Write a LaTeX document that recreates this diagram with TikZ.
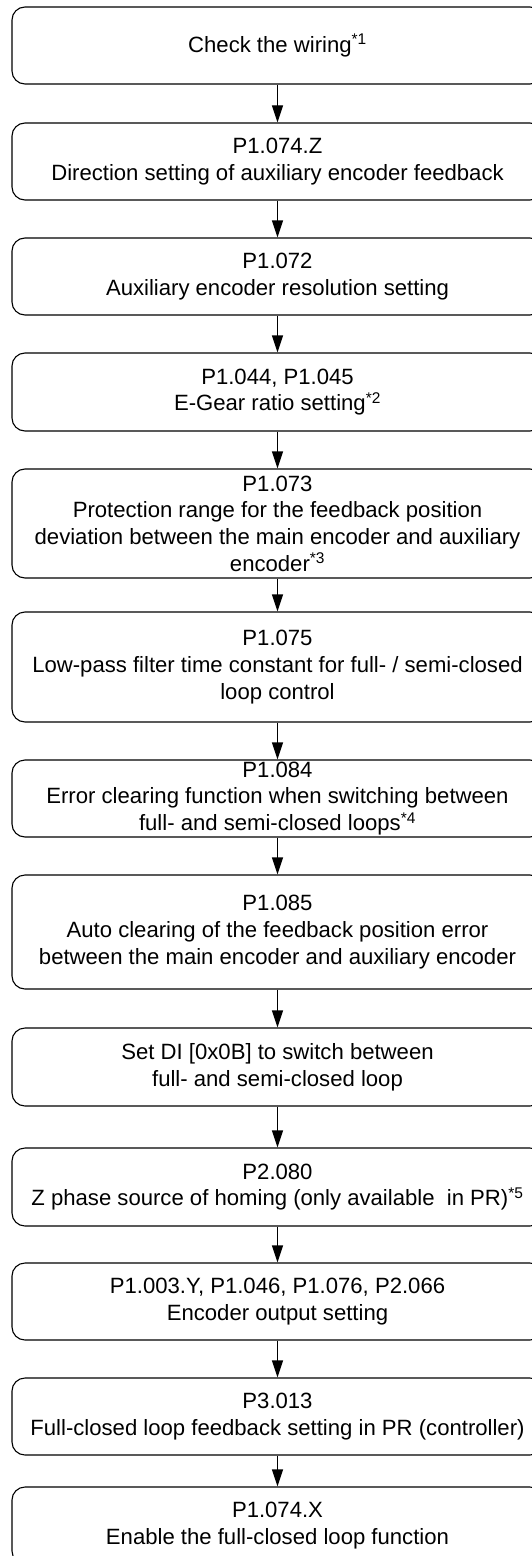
\documentclass[tikz,border=0pt]{standalone}
\usepackage{fontspec}
\setmainfont{Liberation Sans}
\usetikzlibrary{arrows.meta}

\begin{document}
\begin{tikzpicture}[x=1bp, y=-1bp, >={Triangle[width=11bp,length=17bp]}, line width=1.1bp,
    flowbox/.style={draw, rounded corners=13bp, minimum width=531bp, inner sep=0pt, align=center,
      font=\fontsize{22.2}{26.8}\selectfont}]
    % Frame
    \useasboundingbox (0,0) rectangle (532,1556);
    \clip (0,0) rectangle (532,1556);

    % Steps
    \node[flowbox, minimum height=77bp] (wiring) at (277.5,45.5) {Check the wiring\textsuperscript{*1}};
    \node[flowbox, minimum height=77bp] (dirset) at (277.5,161.5) {P1.074.Z\\Direction setting of auxiliary encoder feedback};
    \node[flowbox, minimum height=77bp] (resol) at (277.5,276.5) {P1.072\\Auxiliary encoder resolution setting};
    \node[flowbox, minimum height=78bp] (egear) at (277.5,392) {P1.044, P1.045\\E-Gear ratio setting\textsuperscript{*2}};
    \node[flowbox, minimum height=109bp] (protect) at (277.5,523.5) {P1.073\\Protection range for the feedback position\\deviation between the main encoder and auxiliary\\encoder\textsuperscript{*3}};
    \node[flowbox, minimum height=110bp] (lowpass) at (277.5,667) {P1.075\\Low-pass filter time constant for full- / semi-closed\\loop control};
    \node[flowbox, minimum height=77bp] (errclr) at (277.5,798.5) {P1.084\\Error clearing function when switching between\\full- and semi-closed loops\textsuperscript{*4}};
    \node[flowbox, minimum height=114bp] (autoclr) at (277.5,932) {P1.085\\Auto clearing of the feedback position error\\between the main encoder and auxiliary encoder};
    \node[flowbox, minimum height=78bp] (switchdi) at (277.5,1067) {Set DI [0x0B] to switch between\\full- and semi-closed loop};
    \node[flowbox, minimum height=78bp] (zphase) at (277.5,1187) {P2.080\\Z phase source of homing (only available~ in PR)\textsuperscript{*5}};
    \node[flowbox, minimum height=77bp] (encout) at (277.5,1301.5) {P1.003.Y, P1.046, P1.076, P2.066\\Encoder output setting};
    \node[flowbox, minimum height=77bp] (prfb) at (277.5,1416.5) {P3.013\\Full-closed loop feedback setting in PR (controller)};
    \node[flowbox, minimum height=77bp] (enable) at (277.5,1525.5) {P1.074.X\\Enable the full-closed loop function};

    % Arrows
    \foreach \a/\b in {wiring/dirset, dirset/resol, resol/egear, egear/protect, protect/lowpass,
      lowpass/errclr, errclr/autoclr, autoclr/switchdi, switchdi/zphase, zphase/encout,
      encout/prfb, prfb/enable}
      \draw[->] (\a) -- (\b);
\end{tikzpicture}
\end{document}
